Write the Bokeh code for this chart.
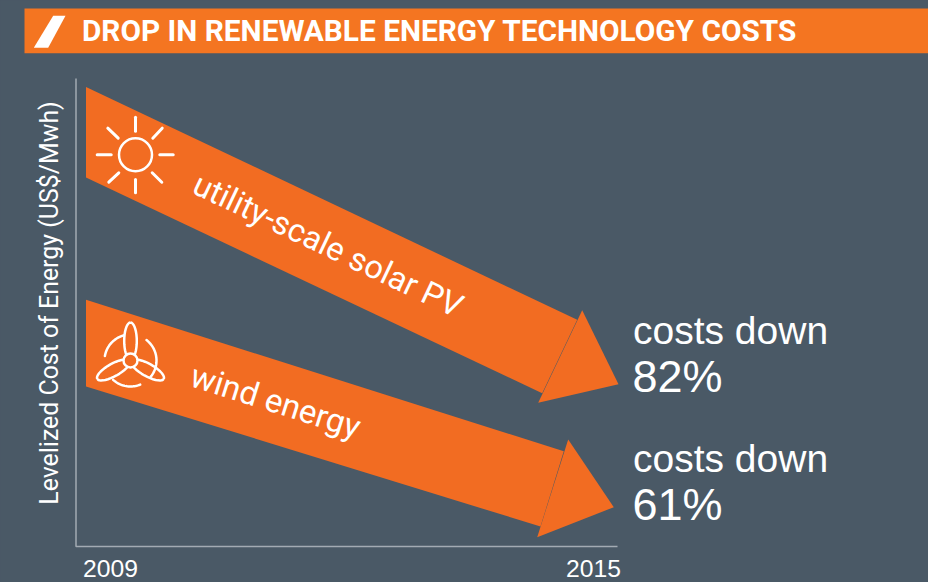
import math
from bokeh.core.properties import value
from bokeh.embed import file_html
from bokeh.models import GlobalInlineStyleSheet, Range1d
from bokeh.plotting import figure
from bokeh.resources import INLINE

title_text = "DROP IN RENEWABLE ENERGY TECHNOLOGY COSTS"
y_label = "Levelized Cost of Energy (US$/Mwh)"
years = ["2009", "2015"]
series_names = ["utility-scale solar PV", "wind energy"]
drop_labels = ["82%", "61%"]
costs_label = "costs down"

solar_shaft_x = [85.5, 576.7, 541.7, 85.5]
solar_shaft_y = [86.5, 319.3, 392.7, 177]
solar_head_x = [581.7, 618, 537.7]
solar_head_y = [309.7, 383.7, 402.3]
wind_shaft_x = [85.5, 563.3, 540, 85.5]
wind_shaft_y = [299.3, 450.7, 526, 386]
wind_head_x = [567.7, 613.3, 536.7]
wind_head_y = [439, 506.7, 536.7]

BG = "#4a5966"
BAND = "#f47521"
ARROW = "#f26c22"
AXIS = "#a3abb3"
WHITE = "#ffffff"
FONT = value("Roboto")
FONT2 = value("Liberation Sans")
K = 0.38  # the SVG text sits this many em below the requested baseline


def label(x, y, text, size, angle=0.0, align="left", font=FONT, style="normal"):
    dx = K * size * math.sin(angle)
    dy = K * size * math.cos(angle)
    p.text([x - dx], [y - dy], text=[text], text_color=WHITE, text_font=font, text_font_style=style,
           text_font_size=f"{size}px", angle=angle, text_align=align, text_baseline="alphabetic")


p = figure(width=928, height=582, output_backend="svg", toolbar_location=None,
           x_range=Range1d(0, 928), y_range=Range1d(582, 0),
           min_border=0, background_fill_color=BG, border_fill_color=BG,
           outline_line_color=None, x_axis_location=None, y_axis_location=None)
p.grid.visible = False
p.stylesheets = [GlobalInlineStyleSheet(css=f"html,body{{margin:0;padding:0;background:{BG};overflow:hidden}}")]

# header
p.patch([24, 928, 928, 24], [8, 8, 52.7, 52.7], color=BAND, line_width=0)
p.patch([33.3, 47.7, 65, 52.7], [47.3, 47.3, 15.3, 15.3], color=WHITE, line_width=0)
label(81.5, 41, title_text, 29.8, style="bold")

# axes
p.line([75.5, 75.5, 617], [78, 546, 546], line_color=AXIS, line_width=1.5)
label(110, 577.5, years[0], 24.7, align="center", font=FONT2)
label(593, 577.5, years[1], 24.7, align="center", font=FONT2)
label(58, 302.5, y_label, 24.9, angle=math.pi / 2, align="center")

# arrows
for sx, sy, hx, hy in [(solar_shaft_x, solar_shaft_y, solar_head_x, solar_head_y),
                       (wind_shaft_x, wind_shaft_y, wind_head_x, wind_head_y)]:
    p.patch(sx, sy, color=ARROW, line_width=0)
    p.patch(hx, hy, color=ARROW, line_width=0)

# arrow labels
label(189.5, 193, series_names[0], 32.6, angle=math.radians(-25.4))
label(187.5, 386, series_names[1], 33, angle=math.radians(-17.6))

# right labels
label(632.5, 345, costs_label, 39, font=FONT2)
label(632.5, 473, costs_label, 39, font=FONT2)
label(632, 393, drop_labels[0], 45, font=FONT2)
label(632, 520.7, drop_labels[1], 45, font=FONT2)

# sun icon
sun_x0 = [135, 135, 96.7, 159.3, 107.3, 161.7, 118.3, 151.7]
sun_y0 = [116.7, 179, 154.3, 154.3, 127.7, 127.7, 172.3, 172.3]
sun_x1 = [135, 135, 110.7, 172.7, 117.7, 152.3, 108.3, 161.3]
sun_y1 = [130.7, 192.3, 154.3, 154.3, 137.7, 137.7, 181.7, 181.7]
p.segment(sun_x0, sun_y0, sun_x1, sun_y1, line_color=WHITE, line_width=3, line_cap="round")
p.scatter([135], [154.3], size=33, marker="circle", fill_color=None, line_color=WHITE, line_width=2.5)

# wind icon
hub_x, hub_y = 130, 360
for deg in [-90, 29, 151]:  # direction of each blade from the hub, screen degrees
    t = math.radians(deg)
    cx, cy = hub_x + 19.5 * math.cos(t), hub_y + 19.5 * math.sin(t)
    pts = [math.radians(i * 10) for i in range(37)]
    xs = [cx + 18.5 * math.cos(a) * math.cos(t) - 6.3 * math.sin(a) * math.sin(t) for a in pts]
    ys = [cy + 18.5 * math.cos(a) * math.sin(t) + 6.3 * math.sin(a) * math.cos(t) for a in pts]
    p.line(xs, ys, line_color=WHITE, line_width=2.5)
p.scatter([hub_x], [hub_y], size=14, marker="circle", fill_color=ARROW, line_color=WHITE, line_width=2.5)
for a0, a1 in [(-170, -105), (-52, 40), (132, 68)]:
    ang = [math.radians(a0 + (a1 - a0) * i / 24) for i in range(25)]
    p.line([hub_x + 26 * math.cos(t) for t in ang], [hub_y + 26 * math.sin(t) for t in ang],
           line_color=WHITE, line_width=2.5, line_cap="round")

open("out.html", "w").write(file_html(p, INLINE))
